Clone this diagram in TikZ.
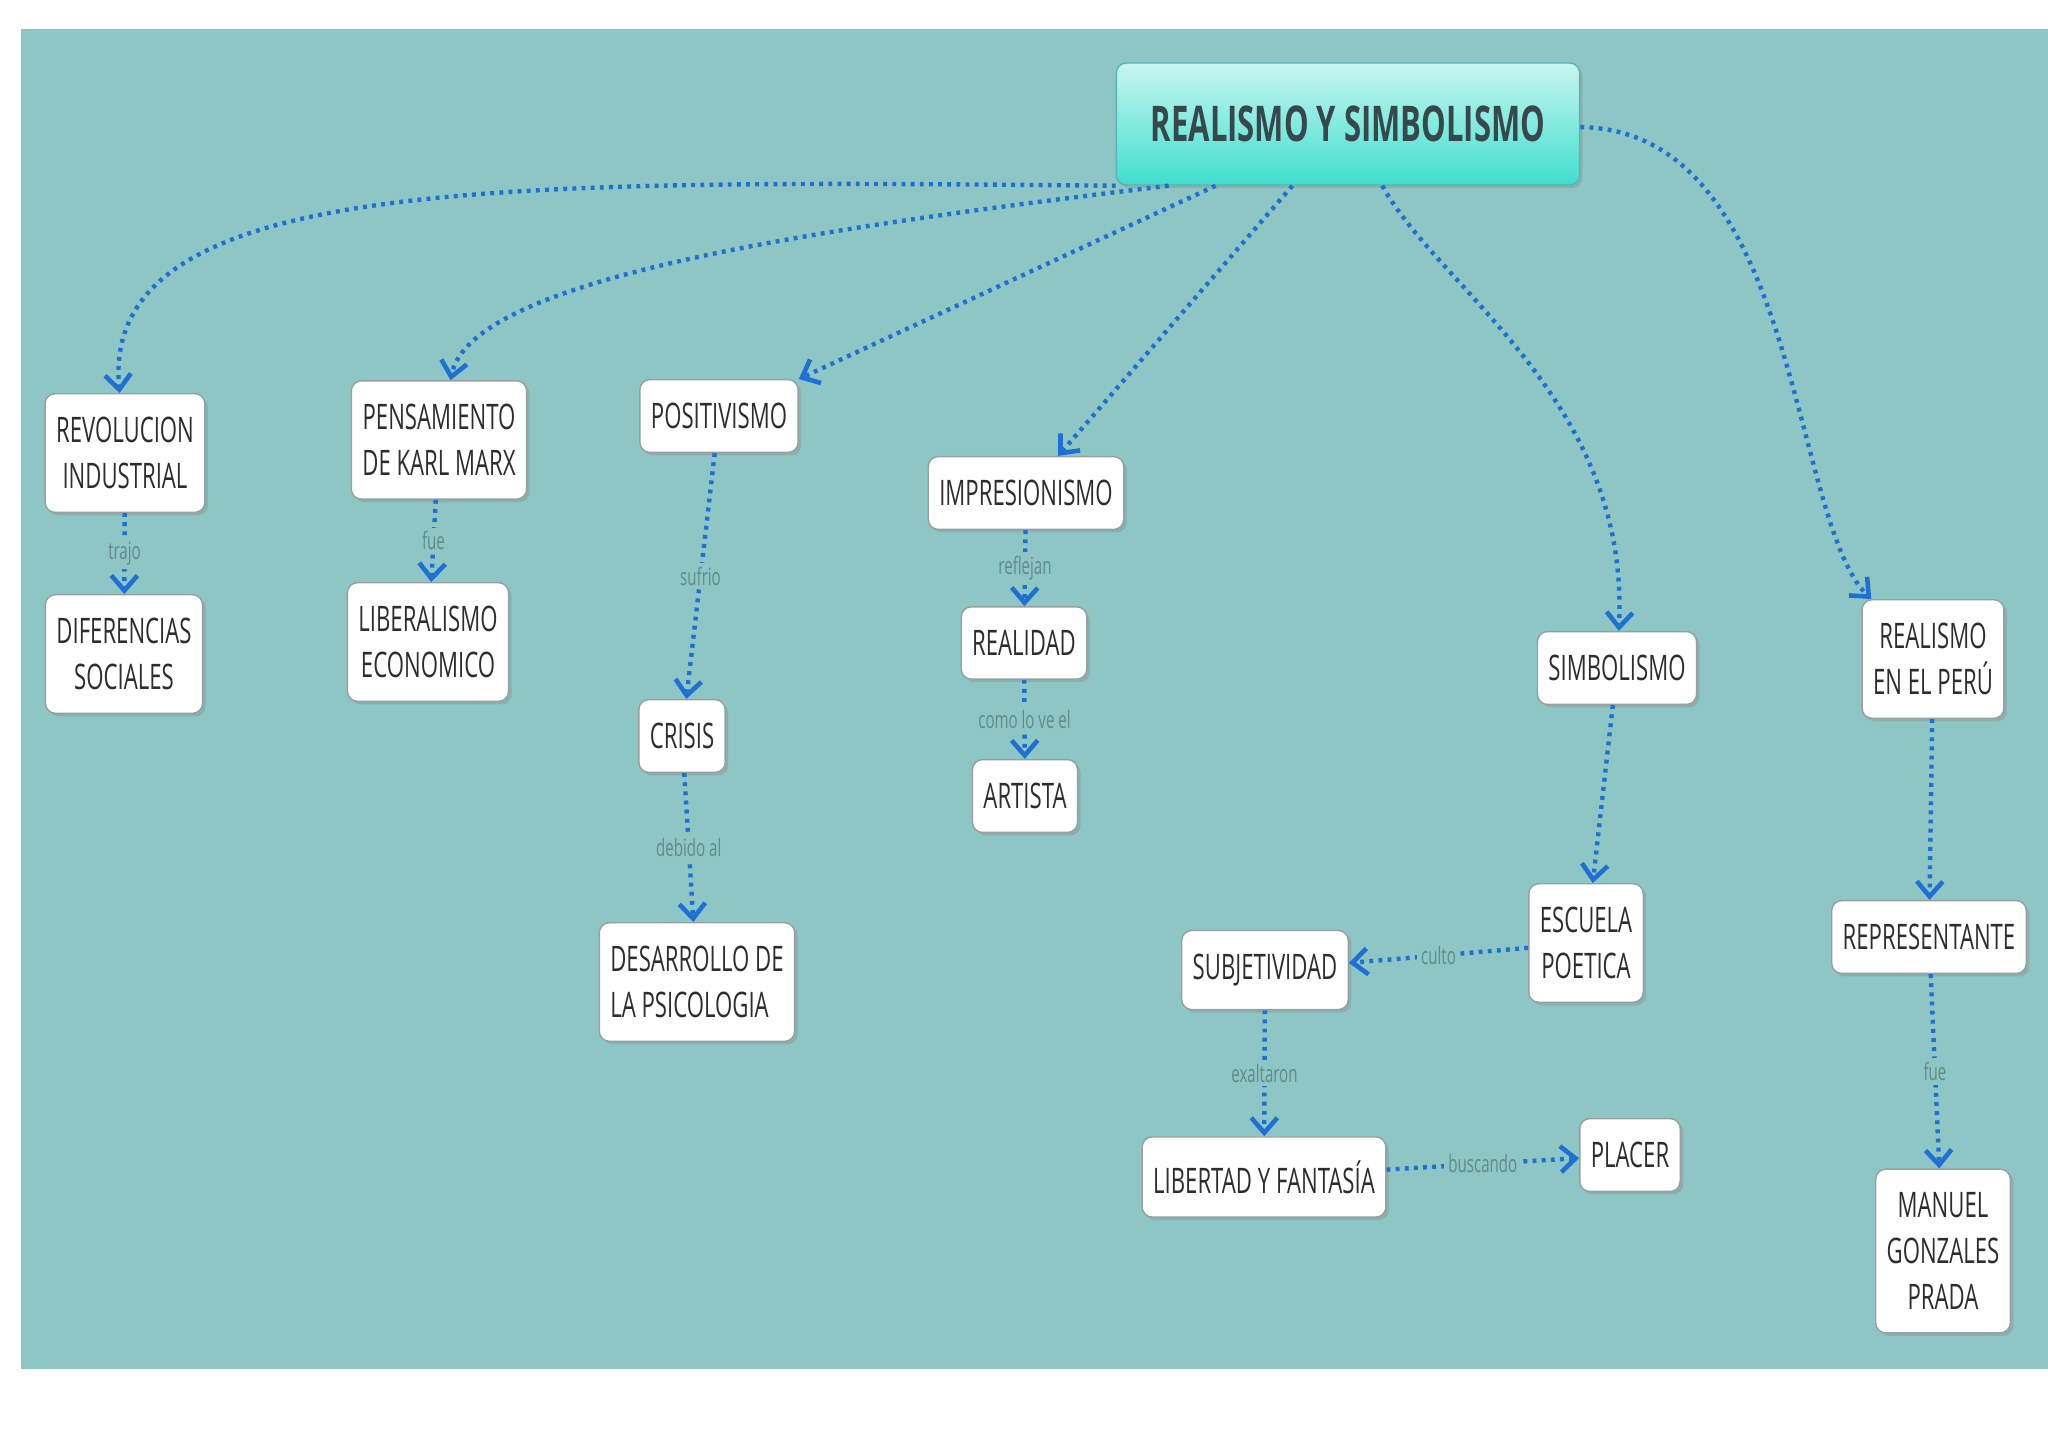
\documentclass[tikz,border=0pt]{standalone}
\usepackage{fontspec}
\setmainfont{Open Sans}[FakeStretch=0.63]
\usetikzlibrary{arrows.meta,shadows}
\definecolor{bgteal}{RGB}{141,198,196}
\definecolor{linkblue}{RGB}{30,112,210}
\definecolor{boxline}{RGB}{150,160,160}
\definecolor{boxtext}{RGB}{45,45,45}
\definecolor{lbltext}{RGB}{98,138,138}
\definecolor{titletop}{RGB}{200,246,240}
\definecolor{titlebot}{RGB}{64,222,206}
\definecolor{titleline}{RGB}{90,180,175}
\definecolor{titletext}{RGB}{55,72,75}

\begin{document}
\begin{tikzpicture}[x=0.01cm,y=-0.01cm,
  box/.style={draw=boxline,line width=0.4pt,fill=white,rounded corners=0.1cm,align=center,text=boxtext,
    font=\fontsize{10}{13}\selectfont,inner xsep=0.11cm,inner ysep=0.235cm,
    drop shadow={shadow xshift=0.03cm,shadow yshift=-0.03cm,opacity=0.3}},
  lbl/.style={fill=bgteal,text=lbltext,font=\fontsize{6.8}{7}\selectfont,inner sep=0.04cm},
  link/.style={linkblue,line width=1.25pt,dash pattern=on 1.1pt off 1.5pt,
    -{Straight Barb[length=1.5mm,width=2.6mm,line width=1.3pt]}}]
\useasboundingbox (0,0) rectangle (2048,1448);
\fill[bgteal] (21,29) rectangle (2048,1369);

\node[draw=titleline,rounded corners=0.1cm,top color=titletop,bottom color=titlebot,minimum width=4.63cm,minimum height=1.22cm,
  text=titletext,font=\fontsize{14}{16}\bfseries\selectfont,drop shadow={opacity=0.3,shadow xshift=0.03cm,shadow yshift=-0.03cm}] (title) at (1348,124) {REALISMO Y SIMBOLISMO};

\node[box] (rev) at (125,453) {REVOLUCION\\INDUSTRIAL};
\node[box] (difer) at (124,654) {DIFERENCIAS\\SOCIALES};
\node[box] (marx) at (439,440) {PENSAMIENTO\\DE KARL MARX};
\node[box] (liber) at (428,642) {LIBERALISMO\\ECONOMICO};
\node[box] (posit) at (719,416) {POSITIVISMO};
\node[box] (crisis) at (682,736) {CRISIS};
\node[box,align=left] (psico) at (697,982) {DESARROLLO DE\\LA PSICOLOGIA};
\node[box] (impres) at (1026,493) {IMPRESIONISMO};
\node[box] (realidad) at (1024,643) {REALIDAD};
\node[box] (artista) at (1025,796) {ARTISTA};
\node[box] (simb) at (1617,668) {SIMBOLISMO};
\node[box] (escuela) at (1586,943) {ESCUELA\\POETICA};
\node[box] (subj) at (1265,970) {SUBJETIVIDAD};
\node[box] (libert) at (1264,1177) {LIBERTAD Y FANTASÍA};
\node[box] (placer) at (1630,1155) {PLACER};
\node[box] (peru) at (1933,659) {REALISMO\\EN EL PERÚ};
\node[box] (repres) at (1929,937) {REPRESENTANTE};
\node[box] (manuel) at (1943,1251) {MANUEL\\GONZALES\\PRADA};

\draw[link] (title.south west) .. controls (500,180) and (100,175) .. (rev);
\draw[link] (title.-161) .. controls (800,230) and (470,280) .. (marx);
\draw[link] (title.-155) -- (posit);
\draw[link] (title.-132) -- (impres);
\draw[link] (title) .. controls (1440,290) and (1630,400) .. (simb);
\draw[link] (title) .. controls (1800,130) and (1790,520) .. (peru);

\draw[link] (rev) -- node[lbl] {trajo} (difer);
\draw[link] (marx) -- node[lbl] {fue} (liber);
\draw[link] (posit) -- node[lbl] {sufrio} (crisis);
\draw[link] (crisis) -- node[lbl] {debido al} (psico);
\draw[link] (impres) -- node[lbl] {reflejan} (realidad);
\draw[link] (realidad) -- node[lbl] {como lo ve el} (artista);
\draw[link] (simb) -- (escuela);
\draw[link] (escuela) -- node[lbl] {culto} (subj);
\draw[link] (subj) -- node[lbl] {exaltaron} (libert);
\draw[link] (libert) -- node[lbl] {buscando} (placer);
\draw[link] (peru) -- (repres);
\draw[link] (repres) -- node[lbl] {fue} (manuel);
\end{tikzpicture}
\end{document}
